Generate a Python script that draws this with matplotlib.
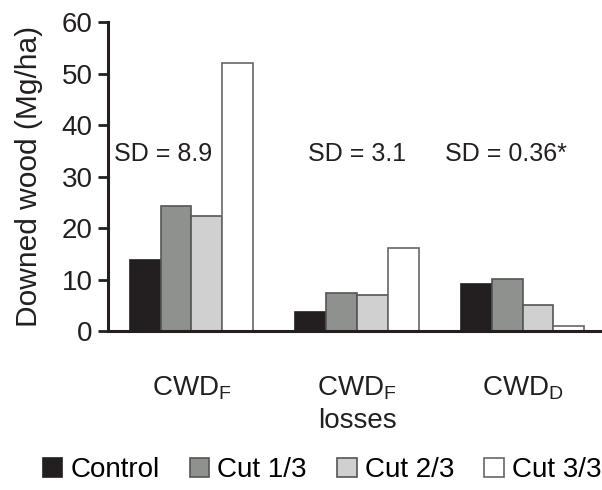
import numpy as np
import matplotlib
matplotlib.use("Agg")
import matplotlib.pyplot as plt

plt.rcParams["font.family"] = ["Liberation Sans", "DejaVu Sans"]
plt.rcParams["mathtext.fontset"] = "custom"
plt.rcParams["mathtext.rm"] = "Liberation Sans"

groups = ["CWD$_\\mathregular{F}$", "CWD$_\\mathregular{F}$\nlosses", "CWD$_\\mathregular{D}$"]
treatments = ["Control", "Cut 1/3", "Cut 2/3", "Cut 3/3"]
control = [13.7, 3.6, 9.1]
cut13 = [24.2, 7.4, 10.1]
cut23 = [22.3, 7.0, 5.1]
cut33 = [52.1, 16.1, 1.0]
sd_labels = ["SD = 8.9", "SD = 3.1", "SD = 0.36*"]
sd_x = [-0.17, 1.0, 1.9]

fills = ["#231f20", "#8f918f", "#d0d0d0", "#ffffff"]
edges = ["#231f20", "#555555", "#555555", "#666666"]

fig = plt.figure(figsize=(6.02, 4.90), dpi=100)
ax = fig.add_axes([0.179, 0.3245, 0.821, 0.6305])

x = np.arange(len(groups))
w = 0.186
for i, vals in enumerate([control, cut13, cut23, cut33]):
    ax.bar(x + (i - 1.5) * w, vals, w, color=fills[i], edgecolor=edges[i],
           linewidth=1.2, label=treatments[i])

for xs, s in zip(sd_x, sd_labels):
    ax.text(xs, 34.3, s, ha="center", va="center", fontsize=18, color="#231f20")

ax.set_xlim(-0.505, 2.48)
ax.set_ylim(0, 60)
ax.set_yticks([0, 10, 20, 30, 40, 50, 60])
ax.set_xticks(x)
ax.set_xticklabels(groups, fontsize=20, color="#231f20", linespacing=1.3)
ax.tick_params(axis="x", length=0, pad=31)
ax.tick_params(axis="y", length=7, width=2, pad=4, labelsize=20, colors="#231f20")
ax.set_ylabel("Downed wood (Mg/ha)", fontsize=21.5, color="#231f20", labelpad=13)

for s in ["top", "right"]:
    ax.spines[s].set_visible(False)
for s in ["left", "bottom"]:
    ax.spines[s].set_linewidth(2.2)
    ax.spines[s].set_color("#231f20")

fig.legend(loc="center", bbox_to_anchor=(0.535, 0.04), ncol=4, frameon=False,
           fontsize=20, handlelength=0.7, handleheight=0.7, handletextpad=0.28,
           columnspacing=1.1, borderaxespad=0)

fig.savefig("out.png", dpi=100)
plt.close(fig)
